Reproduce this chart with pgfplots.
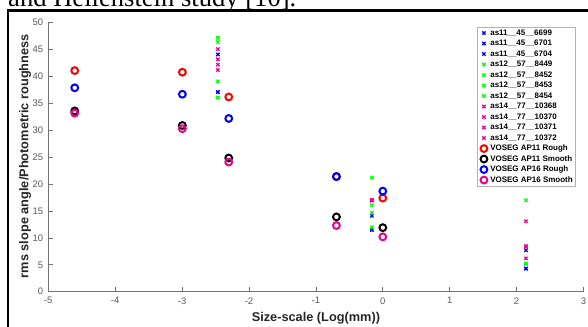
\documentclass[border=0pt]{standalone}
\usepackage{pgfplots}
\pgfplotsset{compat=1.18}
\usepackage{fontspec}
\setmainfont{Liberation Sans}
\newfontfamily\timesfont{Liberation Serif}
\definecolor{axgray}{rgb}{0.45,0.45,0.45}
\definecolor{txtgray}{rgb}{0.35,0.35,0.35}
\begin{document}
\begin{tikzpicture}
\useasboundingbox (0bp,0bp) rectangle (588bp,-327bp);
\clip (0bp,0bp) rectangle (588bp,-327bp);
\node[anchor=base west, inner sep=0pt, font=\timesfont\fontsize{26.7}{30}\selectfont] at (8bp,-6.7bp) {and Hellenstein study [10].};
\draw[line width=2.7bp] (8bp,-340bp) -- (8bp,-10.7bp) -- (600bp,-10.7bp);
\begin{axis}[
  at={(48.3bp,-291.7bp)}, anchor=south west,
  scale only axis, width=535.2bp, height=269bp,
  xmin=-5, xmax=3, ymin=0, ymax=50,
  xtick={-5,-4,...,3}, ytick={0,5,...,50},
  axis x line*=bottom, axis y line*=left,
  axis line style={-, color=axgray, line width=0.7bp},
  tick align=inside, major tick length=4.5bp,
  tick style={color=axgray, line width=0.7bp},
  /pgf/number format/assume math mode=true,
  ticklabel style={font=\fontsize{9.5}{10}\selectfont, text=txtgray},
  xticklabel style={anchor=north, inner sep=0pt, yshift=-5.5bp},
  yticklabel style={anchor=east, inner sep=0pt, xshift=-5bp},
  xlabel={\bfseries Size-scale (Log(mm))},
  ylabel={\bfseries rms slope angle/Photometric roughness},
  label style={font=\fontsize{12.8}{14}\selectfont, text=black!85},
  xlabel style={at={(axis description cs:0.5,-0.0978)}, anchor=center},
  ylabel style={at={(axis description cs:-0.0435,0.504)}, anchor=center},
  legend style={at={(0.986,0.984)}, anchor=north east,
    font=\fontsize{8}{9}\selectfont\bfseries, draw=black!30, line width=0.6bp,
    inner xsep=3bp, inner ysep=2bp,
    nodes={inner sep=0pt, text height=6bp, text depth=1.5bp},
    row sep=3bp, column sep=3bp},
  legend cell align=left,
  xmark/.style={only marks, mark=x, mark size=2.3bp, line width=1.3bp, color=#1},
  omark/.style={only marks, mark=o, mark size=3.4bp, line width=2bp, color=#1},
]
% crosses
\addplot[xmark=blue] coordinates {(-2.465,44.1) (-0.163,14.1) (2.14,7.7)};
\addlegendentry{as11\_\_45\_\_6699}
\addplot[xmark=blue] coordinates {(-2.465,37.1) (-0.163,11.5) (2.14,4.3)};
\addlegendentry{as11\_\_45\_\_6701}
\addplot[xmark=blue] coordinates {(-2.465,37.1) (-0.163,11.5) (2.14,4.3)};
\addlegendentry{as11\_\_45\_\_6704}
\addplot[xmark=green] coordinates {(-2.465,47.2) (-0.163,21.2) (2.14,17.0)};
\addlegendentry{as12\_\_57\_\_8449}
\addplot[xmark=green] coordinates {(-2.465,46.4) (-0.163,16.1) (2.14,5.2)};
\addlegendentry{as12\_\_57\_\_8452}
\addplot[xmark=green] coordinates {(-2.465,39.1) (-0.163,14.7) (2.14,5.2)};
\addlegendentry{as12\_\_57\_\_8453}
\addplot[xmark=green] coordinates {(-2.465,36.1) (-0.163,12.0) (2.14,5.2)};
\addlegendentry{as12\_\_57\_\_8454}
\addplot[xmark=magenta] coordinates {(-2.465,45.1) (-0.163,17.0) (2.14,13.1)};
\addlegendentry{as14\_\_77\_\_10368}
\addplot[xmark=magenta] coordinates {(-2.465,43.2) (-0.163,17.0) (2.14,8.5)};
\addlegendentry{as14\_\_77\_\_10370}
\addplot[xmark=magenta] coordinates {(-2.465,42.2) (-0.163,17.0) (2.14,6.2)};
\addlegendentry{as14\_\_77\_\_10371}
\addplot[xmark=magenta] coordinates {(-2.465,41.2) (-0.163,17.0) (2.14,8.3)};
\addlegendentry{as14\_\_77\_\_10372}
% circles
\addplot[omark=red] coordinates {(-4.605,41.1) (-2.996,40.8) (-2.303,36.2) (-0.693,21.4) (0,17.4)};
\addlegendentry{VOSEG AP11 Rough}
\addplot[omark=black] coordinates {(-4.605,33.6) (-2.996,30.9) (-2.303,24.85) (-0.693,13.9) (0,11.9)};
\addlegendentry{VOSEG AP11 Smooth}
\addplot[omark=blue] coordinates {(-4.605,37.9) (-2.996,36.7) (-2.303,32.2) (-0.693,21.4) (0,18.7)};
\addlegendentry{VOSEG AP16 Rough}
\addplot[omark=magenta] coordinates {(-4.605,33.2) (-2.996,30.3) (-2.303,24.1) (-0.693,12.3) (0,10.2)};
\addlegendentry{VOSEG AP16 Smooth}
\end{axis}
\end{tikzpicture}
\end{document}
